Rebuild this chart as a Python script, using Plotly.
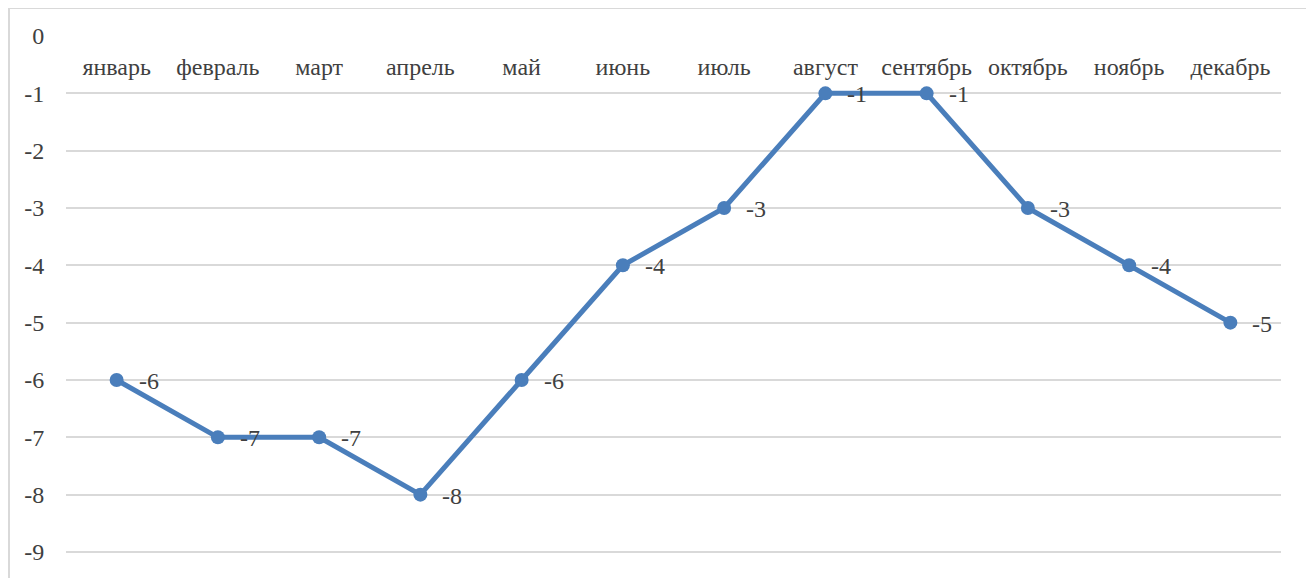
import plotly.graph_objects as go

months = ["январь", "февраль", "март", "апрель", "май", "июнь", "июль",
          "август", "сентябрь", "октябрь", "ноябрь", "декабрь"]
values = [-6, -7, -7, -8, -6, -4, -3, -1, -1, -3, -4, -5]
y_ticks = [0, -1, -2, -3, -4, -5, -6, -7, -8, -9]

FONT = "Liberation Serif"
FS = 24
TXT = "#404040"
LINE = "#4a7ebb"

fig = go.Figure()
fig.add_trace(go.Scatter(
    x=months, y=values, mode="lines+markers",
    line=dict(color=LINE, width=5),
    marker=dict(color=LINE, size=14),
    cliponaxis=False, showlegend=False,
))

for m, v in zip(months, values):
    fig.add_annotation(x=m, y=v, text=str(v), showarrow=False,
                       xanchor="left", yanchor="middle", xshift=20, yshift=-1,
                       font=dict(family=FONT, size=FS, color=TXT))

# page body has an 8px margin; the figure sits at (8, 8)
W, H = 1302, 570
L, R, T, B = 58, W - 1273, 28, 0
pw, ph = W - L - R, H - T - B

fig.update_layout(
    width=W, height=H,
    margin=dict(l=L, r=R, t=T, b=B),
    paper_bgcolor="white", plot_bgcolor="white",
    font=dict(family=FONT, size=FS, color=TXT),
    xaxis=dict(
        type="category", anchor="free", position=1, side="bottom",
        showgrid=False, showline=False, zeroline=False,
        ticks="outside", ticklen=9, tickcolor="rgba(0,0,0,0)",
        tickfont=dict(family=FONT, size=FS, color=TXT),
        range=[-0.5, 11.5],
    ),
    yaxis=dict(
        range=[-(H - T) / 57.33, 0],
        tickvals=y_ticks, ticktext=[str(v) for v in y_ticks],
        showgrid=True, gridcolor="#d9d9d9", gridwidth=2,
        zeroline=False, showline=False,
        ticks="outside", ticklen=16, tickcolor="rgba(0,0,0,0)",
        tickfont=dict(family=FONT, size=FS, color=TXT),
    ),
)

# outer chart frame
fig.add_shape(type="rect", xref="paper", yref="paper",
              x0=(1 - L) / pw, x1=(W - 1 - L) / pw,
              y0=-0.2, y1=1 + (T - 0) / ph,
              line=dict(color="#d9d9d9", width=2), layer="below")

fig.write_html("out.html")
